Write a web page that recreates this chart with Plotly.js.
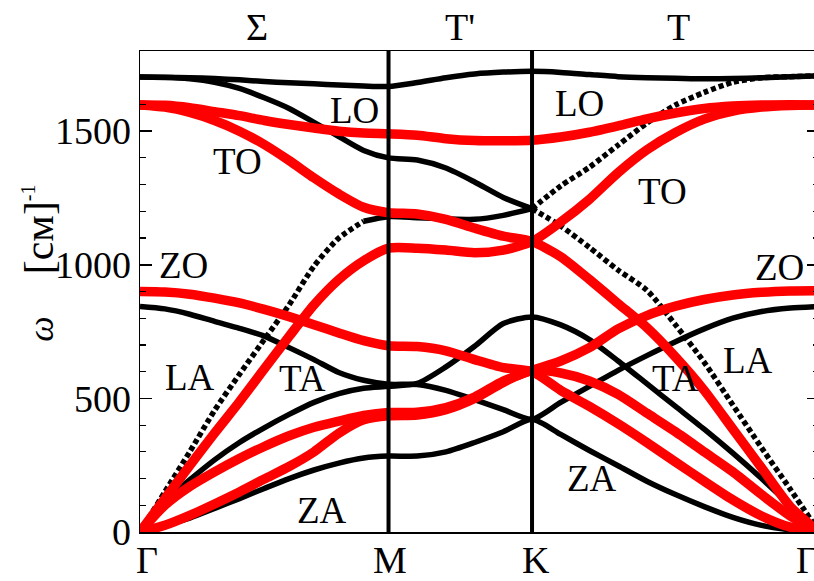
<!DOCTYPE html>
<html>
<head>
<meta charset="utf-8">
<script src="https://cdn.plot.ly/plotly-3.0.1.min.js"></script>
<style>
  html, body { margin: 0; padding: 0; width: 814px; height: 581px; overflow: hidden; background: #fff; }
  #chart { width: 826px; height: 581px; }
</style>
</head>
<body>
<div id="chart"></div>
<script>
// Path through the Brillouin zone: Γ–M (length 1), M–K (1/√3), K–Γ (2/√3)
const kPath = [
  0.0, 0.1, 0.2, 0.3, 0.4, 0.5, 0.6, 0.7, 0.8, 0.9, 1.0,
  1.1155, 1.2309, 1.3464, 1.4619, 1.5774,
  1.6928, 1.8083, 1.9238, 2.0392, 2.1547, 2.2702, 2.3856, 2.5011, 2.6166, 2.7321
];

// High-symmetry points and the segment names between them
const symLabels = ['Γ', 'M', 'K', 'Γ'];
const symK = [0, 1.0, 1.5774, 2.7321];
const segLabels = ['Σ', "T'", 'T'];
const segK = [0.471, 1.2887, 2.1650];

// Frequencies, cm^-1 — first set (black)
const blackLO = [1703,1701,1700,1697,1692,1686,1681,1677,1673,1669,1667, 1682,1700,1714,1721,1724, 1720,1712,1704,1700,1698,1696,1697,1700,1704,1707];
const blackTO = [1703,1702,1696,1683,1660,1625,1585,1533,1480,1428,1400, 1392,1362,1310,1252,1210, 1145,1065,980,905,775,635,475,315,160,0];
const blackLA = [0,150,300,455,590,720,850,995,1100,1163,1180, 1176,1172,1170,1185,1210, 1295,1365,1448,1530,1598,1645,1683,1700,1704,1707];
const blackZO = [844,835,815,788,762,733,690,645,597,568,553, 552,530,495,458,422, 485,545,605,660,712,760,800,825,838,844];
const blackTA = [0,115,195,270,335,390,440,485,518,538,545, 556,618,695,780,805, 775,720,640,555,470,385,295,200,100,0];
const blackZA = [0,25,52,88,125,163,200,232,258,277,284, 284,300,335,375,422, 365,305,248,190,140,95,55,25,8,0];

// Frequencies, cm^-1 — second set (red)
const redLO = [1598,1597,1588,1573,1558,1540,1525,1512,1500,1493,1490, 1485,1472,1465,1464,1466, 1478,1496,1520,1546,1568,1585,1594,1598,1599,1598];
const redTO = [1598,1590,1570,1540,1500,1450,1390,1325,1265,1215,1195, 1190,1170,1137,1107,1087, 1030,945,855,765,655,530,385,240,95,0];
const redLA = [0,125,248,370,487,610,732,850,945,1015,1062, 1062,1055,1045,1055,1087, 1160,1245,1345,1430,1495,1545,1575,1590,1596,1598];
const redZO = [900,898,890,875,857,833,806,776,745,716,697, 694,678,645,615,600, 530,470,405,335,262,190,120,60,18,0];
const redTA = [0,100,170,225,275,320,360,392,415,436,447, 448,466,505,565,605, 640,690,760,810,845,870,887,897,902,903];
const redZA = [0,25,62,105,150,198,245,300,370,420,435, 438,458,500,560,605, 595,565,515,445,375,300,225,140,60,0];

// Branch labels: [text, k, omega]
const branchLabels = [
  ['LO', 0.865, 1579], ['TO', 0.394, 1385], ['ZO', 0.177, 999],
  ['LA', 0.201, 580], ['TA', 0.652, 573], ['ZA', 0.732, 79],
  ['LO', 1.767, 1602], ['TO', 2.101, 1276], ['ZO', 2.575, 988],
  ['TA', 2.153, 573], ['LA', 2.447, 640], ['ZA', 1.819, 202]
];

const SERIF = 'Liberation Serif';
const BLACK_W = 5.5, RED_W = 9.5;
const DOTS = '5px,3px';

function branch(values, color, width, from, to, dash) {
  return {
    x: kPath.slice(from, to + 1),
    y: values.slice(from, to + 1),
    mode: 'lines',
    hoverinfo: 'skip',
    line: { color: color, width: width, shape: 'spline', smoothing: 0.7, dash: dash || 'solid' }
  };
}

const last = kPath.length - 1;
const traces = [
  branch(blackLO, '#000', BLACK_W, 0, last),
  branch(blackTO, '#000', BLACK_W, 0, 15),
  branch(blackTO, '#000', BLACK_W, 15, last, DOTS),
  branch(blackLA, '#000', BLACK_W, 0, 9, DOTS),
  branch(blackLA, '#000', BLACK_W, 9, 15),
  branch(blackLA, '#000', BLACK_W, 15, last, DOTS),
  branch(blackZO, '#000', BLACK_W, 0, last),
  branch(blackTA, '#000', BLACK_W, 0, last),
  branch(blackZA, '#000', BLACK_W, 0, last),
  branch(redLO, '#ff0000', RED_W, 0, last),
  branch(redTO, '#ff0000', RED_W, 0, last),
  branch(redLA, '#ff0000', RED_W, 0, last),
  branch(redZO, '#ff0000', RED_W, 0, last),
  branch(redTA, '#ff0000', RED_W, 0, last),
  branch(redZA, '#ff0000', RED_W, 0, last)
];

const annotations = [];
branchLabels.forEach(([t, k, w]) => {
  annotations.push({ x: k, y: w, xref: 'x', yref: 'y', text: t, showarrow: false,
    font: { family: SERIF, size: 37, color: '#000' }, xanchor: 'center', yanchor: 'middle' });
});
const symShift = [7, 1, 4, -12];
symLabels.forEach((t, i) => {
  annotations.push({ x: symK[i], y: 0, xref: 'x', yref: 'paper', text: t, showarrow: false,
    xshift: symShift[i], yshift: -28, xanchor: 'center', yanchor: 'middle',
    font: { family: SERIF, size: 38, color: '#000' } });
});
segLabels.forEach((t, i) => {
  annotations.push({ x: segK[i], y: 1, xref: 'x', yref: 'paper', text: t, showarrow: false,
    yshift: 24, xanchor: 'center', yanchor: 'middle',
    font: { family: SERIF, size: 38, color: '#000' } });
});
// Axis title: ω [см]^-1
annotations.push({
  x: -0.15, y: 0.558, xref: 'paper', yref: 'paper', showarrow: false, textangle: -90,
  xanchor: 'center', yanchor: 'middle',
  text: '<span style="font-size:36px"><i>ω</i></span>\u00a0\u00a0\u00a0\u00a0[см]<sup><span style="font-size:20px">-1</span></sup>',
  font: { family: SERIF, size: 42, color: '#000' }
});

const shapes = [1, 2].map(i => ({
  type: 'line', xref: 'x', yref: 'paper', x0: symK[i], x1: symK[i], y0: 0, y1: 1,
  line: { color: '#000', width: 4 }, layer: 'above'
}));

const layout = {
  width: 826, height: 581,
  margin: { l: 140, r: 7, t: 51, b: 49 },
  paper_bgcolor: '#fff', plot_bgcolor: '#fff',
  showlegend: false,
  font: { family: SERIF, color: '#000' },
  xaxis: {
    range: [0, symK[3]], showline: true, linecolor: '#000', linewidth: 1.5, mirror: true,
    ticks: '', showticklabels: false, showgrid: false, zeroline: false
  },
  yaxis: {
    range: [0, 1800], showline: true, linecolor: '#000', linewidth: 1.5, mirror: 'allticks',
    ticks: 'inside', ticklen: 12, tickwidth: 1.5, tickcolor: '#000',
    tick0: 0, dtick: 500,
    minor: { dtick: 100, ticks: 'inside', ticklen: 6, tickwidth: 1.2, tickcolor: '#000' },
    showgrid: false, zeroline: false,
    tickfont: { family: SERIF, size: 38, color: '#000' }
  },
  annotations: annotations,
  shapes: shapes
};

Plotly.newPlot('chart', traces, layout, { staticPlot: true, displayModeBar: false });
</script>
</body>
</html>
